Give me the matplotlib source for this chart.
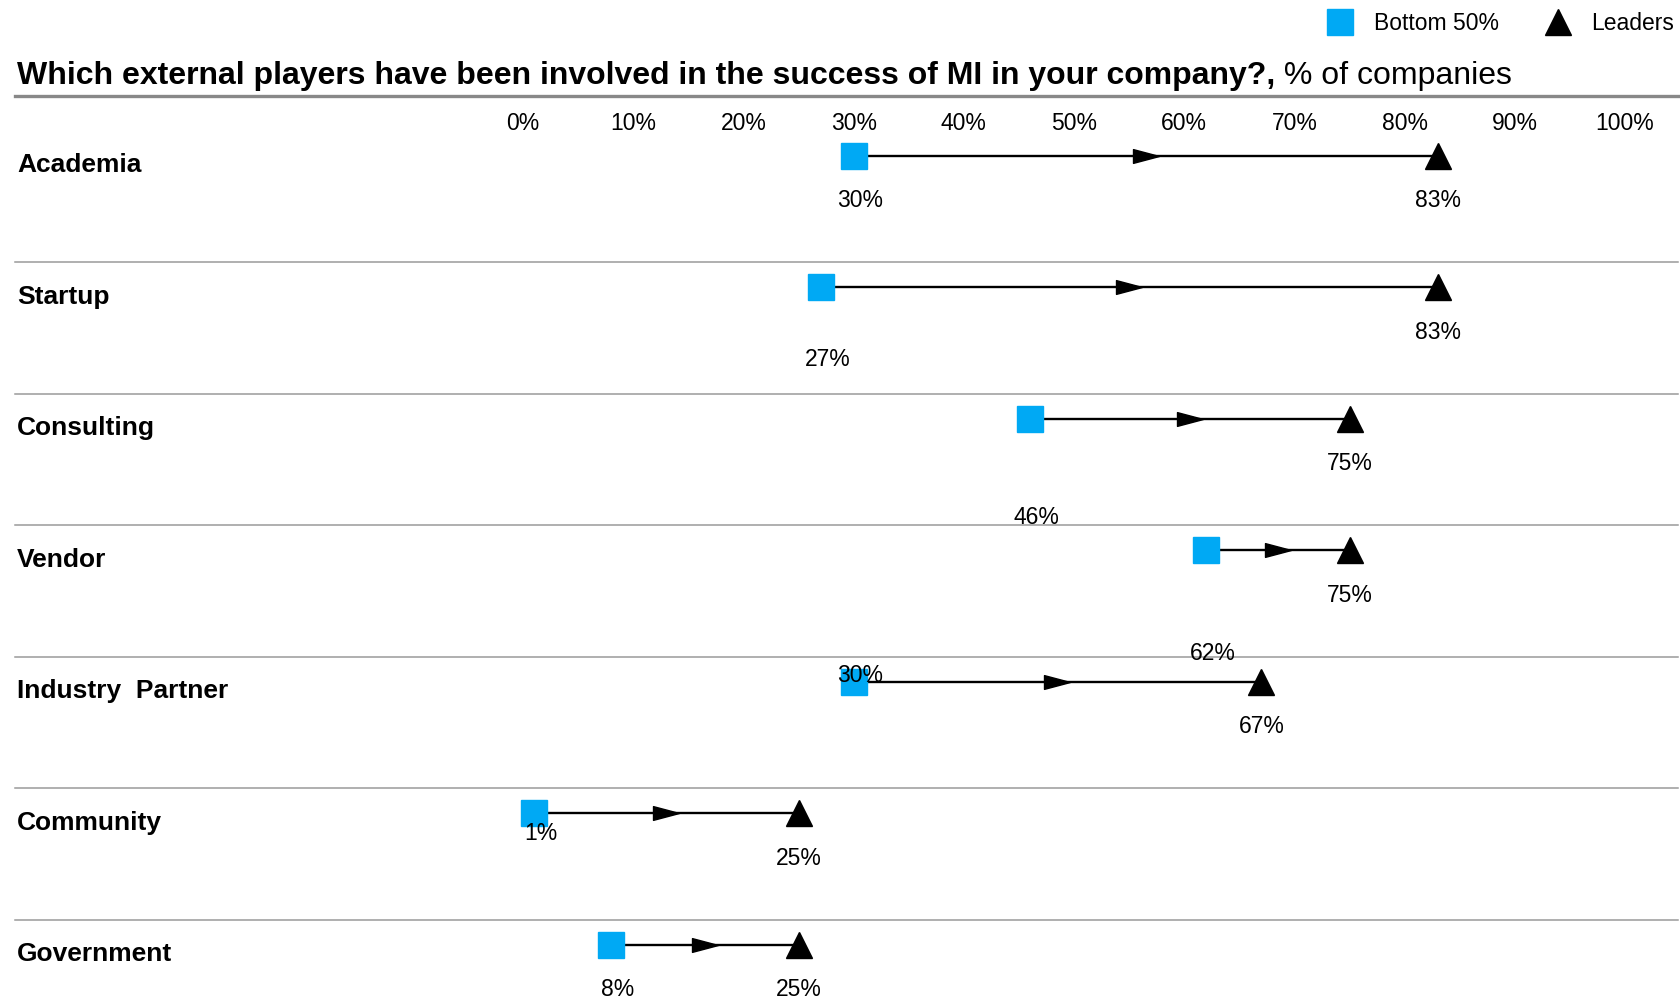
import matplotlib.pyplot as plt
from matplotlib.path import Path

plt.rcParams['font.family'] = ['Liberation Sans', 'DejaVu Sans']

categories = ["Academia", "Startup", "Consulting", "Vendor",
              "Industry  Partner", "Community", "Government"]
bottom50 = [30, 27, 46, 62, 30, 1, 8]
leaders = [83, 83, 75, 75, 67, 25, 25]
ticks = [0, 10, 20, 30, 40, 50, 60, 70, 80, 90, 100]

BLUE = "#00A9F4"
W, H = 1681, 999

# vertical offsets (points) of the bottom-50% value labels, row by row
bottom_label_dy = [32.5, 52.5, 71, 74.5, -4, 14.5, 32.5]

fig = plt.figure(figsize=(W / 100, H / 100), dpi=100)
ax = fig.add_axes([0, 0, 1, 1])
ax.axis("off")

# 0% sits at x=523px, 100% at x=1625px; rows start at y=155px, 131.5px apart
px_per_pct = (1625 - 523) / 100
ax.set_xlim(-523 / px_per_pct, (W - 523) / px_per_pct)
ax.set_ylim((H - 155.5) / 131.5, -155.5 / 131.5)

arrow_head = Path([(-1, -0.53), (1, 0), (-1, 0.53), (-1, -0.53)],
                  [Path.MOVETO, Path.LINETO, Path.LINETO, Path.CLOSEPOLY])

for i, (name, b, l) in enumerate(zip(categories, bottom50, leaders)):
    ax.plot([b, l], [i, i], color="black", lw=1.7, zorder=2)
    ax.plot([(b + l) / 2], [i], marker=arrow_head, ms=18.7, color="black",
            lw=0, zorder=3)
    ax.plot([b], [i], marker="s", ms=19.2, color=BLUE, lw=0, zorder=4)
    ax.plot([l], [i], marker="^", ms=18.5, color="black", lw=0, zorder=4)
    ax.annotate(f"{b}%", (b, i), xytext=(5, -bottom_label_dy[i]),
                textcoords="offset points", ha="center", va="center",
                fontsize=16.5, zorder=5)
    ax.annotate(f"{l}%", (l, i), xytext=(0, -32.5), textcoords="offset points",
                ha="center", va="center", fontsize=16.5, zorder=5)
    ax.annotate(name, (17 / W, i), xycoords=("axes fraction", "data"),
                xytext=(0, -7), textcoords="offset points",
                ha="left", va="center", fontsize=19, fontweight="bold")
    if i > 0:
        ax.axhline(i - 0.19, xmin=15 / W, xmax=1678 / W, color="#9a9a9a",
                   lw=1.1, zorder=1)

for t in ticks:
    ax.text(t, -0.245, f"{t}%", ha="center", va="center", fontsize=16.5)

# title: bold question followed by the unit in regular weight
title = fig.text(17 / W, 1 - 76 / H,
                 "Which external players have been involved in the success of MI in your company?,",
                 ha="left", va="center", fontsize=23, fontweight="bold")
ax.annotate(" % of companies", xy=(1, 0), xycoords=title,
            ha="left", va="bottom", fontsize=23)
ax.axhline(-0.45, xmin=15 / W, xmax=1678 / W, color="#888888", lw=2.4)

# legend
ax.plot([1340 / W], [1 - 22 / H], transform=fig.transFigure, marker="s",
        ms=19.2, color=BLUE, lw=0, clip_on=False)
fig.text(1374 / W, 1 - 23 / H, "Bottom 50%", ha="left", va="center", fontsize=16.5)
ax.plot([1558 / W], [1 - 22 / H], transform=fig.transFigure, marker="^",
        ms=18.5, color="black", lw=0, clip_on=False)
fig.text(1591 / W, 1 - 23 / H, "Leaders", ha="left", va="center", fontsize=16.5)

fig.savefig("out.png", dpi=100)
